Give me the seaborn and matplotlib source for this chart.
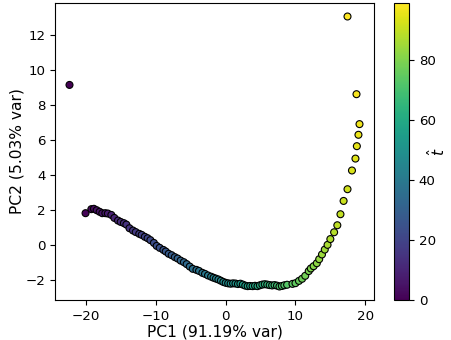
import matplotlib
matplotlib.use("Agg")
import matplotlib.pyplot as plt
import seaborn as sns
import pandas as pd
from matplotlib.colors import Normalize
from matplotlib.cm import ScalarMappable

pc1 = [-22.4, -20.1,
       -19.27, -18.9, -18.5, -18.08, -17.7, -17.26, -16.9, -16.4, -15.97, -15.45,
       -15.06, -14.6, -14.25, -13.8, -13.3, -12.9, -12.4, -12.05, -11.6, -11.2,
       -10.8, -10.3, -9.9, -9.47, -8.94, -8.6, -8.18, -7.75, -7.3, -6.9,
       -6.46, -6.0, -5.6, -5.16, -4.73, -4.2, -3.83, -3.35, -2.97, -2.54,
       -2.1, -1.75, -1.4, -1.05, -0.7, -0.35, 0.0, 0.35, 0.7, 1.05,
       1.4, 1.75, 2.1, 2.45, 2.8, 3.15, 3.5, 3.85, 4.2, 4.55,
       4.9, 5.25, 5.6, 5.95, 6.3, 6.65, 7.0, 7.35, 7.7, 8.05,
       8.4, 8.8,
       9.57, 10.0, 10.5, 10.95, 11.4, 11.9, 12.2, 12.6, 13.06, 13.4,
       13.8, 14.2, 14.6, 15.0, 15.54, 16.0, 16.45, 16.9, 17.46, 18.1,
       18.6, 18.8, 19.03, 19.18, 18.75, 17.46]

pc2 = [9.14, 1.81,
       2.04, 2.06, 1.98, 1.89, 1.81, 1.81, 1.79, 1.71, 1.54, 1.39,
       1.31, 1.24, 1.16, 0.95, 0.82, 0.73, 0.63, 0.57, 0.46, 0.38,
       0.27, 0.11, -0.06, -0.17, -0.29, -0.38, -0.51, -0.59, -0.70, -0.78,
       -0.90, -0.99, -1.10, -1.24, -1.37, -1.43, -1.49, -1.60, -1.66, -1.75,
       -1.82, -1.88, -1.93, -1.98, -2.05, -2.12, -2.17, -2.20, -2.22, -2.20,
       -2.21, -2.24, -2.22, -2.27, -2.33, -2.36, -2.35, -2.36, -2.34, -2.36,
       -2.31, -2.27, -2.25, -2.27, -2.30, -2.32, -2.30, -2.33, -2.38, -2.35,
       -2.31, -2.28,
       -2.23, -2.19, -2.06, -1.94, -1.77, -1.50, -1.35, -1.22, -1.05, -0.82,
       -0.55, -0.27, 0.0, 0.33, 0.72, 1.12, 1.75, 2.51, 3.18, 4.25,
       4.93, 5.64, 6.29, 6.90, 8.61, 13.05]

t_hat = list(range(len(pc1)))

df = pd.DataFrame({"PC1": pc1, "PC2": pc2, "t": t_hat})

fig = plt.figure(figsize=(4.52, 3.40), dpi=100)
ax = fig.add_axes([55 / 452, 1 - 300 / 340, (374 - 55) / 452, (300 - 3) / 340])
cax = fig.add_axes([394 / 452, 1 - 300 / 340, 15 / 452, (300 - 3) / 340])

norm = Normalize(vmin=min(t_hat), vmax=max(t_hat))
sns.scatterplot(data=df, x="PC1", y="PC2", hue="t", palette="viridis",
                hue_norm=norm, legend=False, s=25, edgecolor="black",
                linewidth=0.8, ax=ax)

ax.set_xlabel("PC1 (91.19% var)", fontsize=11.2, labelpad=1)
ax.set_ylabel("PC2 (5.03% var)", fontsize=11.2, labelpad=1)
ax.tick_params(labelsize=9.6)
ax.set_xticks([-20, -10, 0, 10, 20])

sm = ScalarMappable(norm=norm, cmap="viridis")
cb = fig.colorbar(sm, cax=cax)
cb.set_ticks([0, 20, 40, 60, 80])
cb.ax.tick_params(labelsize=9.6)
cb.set_label(r"$\hat{t}$", fontsize=11)
lab = cb.ax.yaxis.label
lab.set_horizontalalignment("center")
lab.set_verticalalignment("center")
cb.ax.yaxis.set_label_coords(2.9, 0.5)

fig.savefig("out.png", dpi=100)
